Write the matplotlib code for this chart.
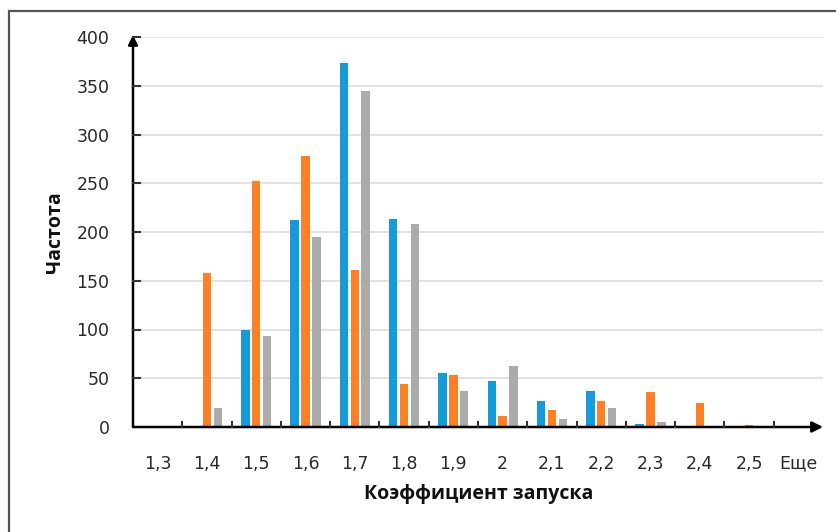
import matplotlib
matplotlib.use("Agg")
import matplotlib.pyplot as plt
import numpy as np
from matplotlib.patches import Rectangle

categories = ["1,3", "1,4", "1,5", "1,6", "1,7", "1,8", "1,9", "2", "2,1", "2,2", "2,3", "2,4", "2,5", "Еще"]
series_blue = [0, 0, 99, 212, 373, 213, 55, 47, 27, 37, 3, 0, 0, 0]
series_orange = [0, 158, 252, 278, 161, 44, 53, 11, 17, 27, 36, 25, 2, 0]
series_gray = [0, 20, 93, 195, 345, 208, 37, 63, 8, 20, 5, 0, 0, 0]
y_ticks = [0, 50, 100, 150, 200, 250, 300, 350, 400]

colors = ["#159BD7", "#FF7F24", "#ABABAB"]

plt.rcParams['font.family'] = ['DejaVu Sans']

fig = plt.figure(figsize=(8.37, 5.32), dpi=100)
ax = fig.add_axes([133/837, 1 - 427/532, (823-133)/837, (427-37)/532])

x = np.arange(len(categories))
w = 0.17
step = 0.22
for i, (vals, c) in enumerate(zip([series_blue, series_orange, series_gray], colors)):
    ax.bar(x + (i - 1) * step, vals, width=w, color=c, zorder=3)

ax.set_xlim(-0.5, len(categories) - 0.5)
ax.set_ylim(0, 400)
ax.set_yticks(y_ticks)
ax.set_yticklabels([str(v) for v in y_ticks], fontsize=12.5, color="#2a2a2a")
ax.set_xticks(x)
ax.set_xticklabels(categories, fontsize=12.5, color="#2a2a2a")
ax.tick_params(axis='x', length=0, pad=20)
ax.tick_params(axis='y', length=0, pad=17)

# minor ticks between categories (inward)
for b in np.arange(0.5, len(categories) - 0.5, 1.0):
    ax.plot([b, b], [0, 5], color="#333333", lw=1.5, zorder=4, clip_on=False)
for v in y_ticks[1:]:
    ax.plot([-0.5, -0.36], [v, v], color="#333333", lw=1.5, zorder=4, clip_on=False)

ax.grid(axis='y', color="#dddddd", lw=1.2, zorder=0)
for s in ax.spines.values():
    s.set_visible(False)

# axes with arrows
ax.annotate('', xy=(1.0, 0), xytext=(0, 0), xycoords='axes fraction',
            arrowprops=dict(arrowstyle='-|>', color='black', lw=1.8, mutation_scale=16,
                            shrinkA=0, shrinkB=0), annotation_clip=False)
ax.annotate('', xy=(0, 1.005), xytext=(0, 0), xycoords='axes fraction',
            arrowprops=dict(arrowstyle='-|>', color='black', lw=1.8, mutation_scale=14,
                            shrinkA=0, shrinkB=0), annotation_clip=False)

fig.text(479/837, 1 - 494/532, "Коэффициент запуска", ha='center', va='center',
         fontsize=14, fontweight='bold', color="#111111", family=['Open Sans', 'DejaVu Sans'])
fig.text(55/837, 1 - 232/532, "Частота", ha='center', va='center', rotation=90,
         fontsize=14, fontweight='bold', color="#111111", family=['Open Sans', 'DejaVu Sans'])

# outer frame
fig.patches.append(Rectangle((9/837, -0.1), 1.2, 1 - 11/532 + 0.1, transform=fig.transFigure,
                             fill=False, edgecolor="#555555", lw=1.6, figure=fig))

fig.savefig("out.png", dpi=100)
